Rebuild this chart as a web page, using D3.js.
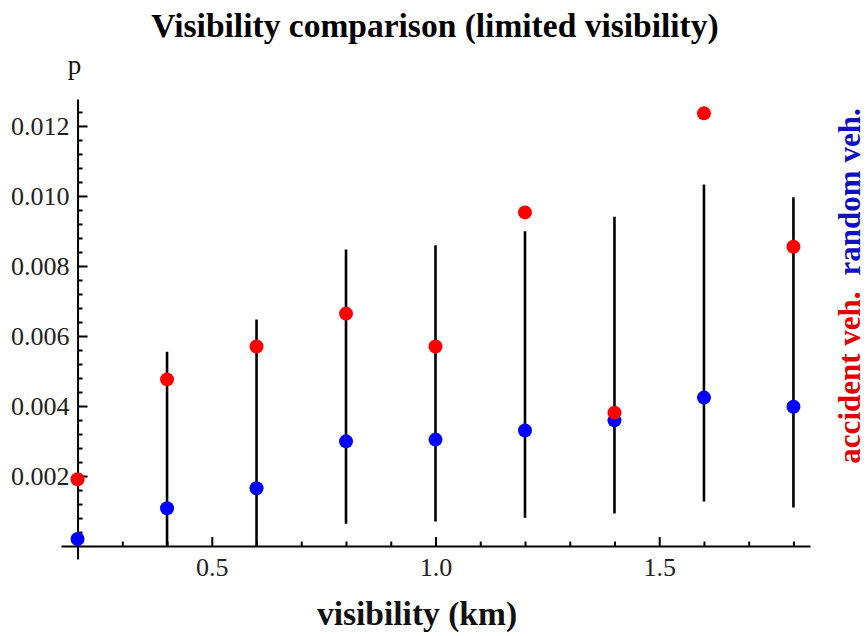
<!DOCTYPE html>
<html>
<head>
<meta charset="utf-8">
<script src="https://cdn.jsdelivr.net/npm/d3@7"></script>
<style>
  html, body { margin: 0; padding: 0; background: #fff; }
  svg { display: block; }
</style>
</head>
<body>
<svg id="chart" width="866" height="636"></svg>
<script>
// ---- data ----
const visibility   = [0.2, 0.4, 0.6, 0.8, 1.0, 1.2, 1.4, 1.6, 1.8];
const accidentVeh  = [0.00191, 0.00476, 0.00570, 0.00664, 0.00570, 0.00953, 0.00381, 0.01236, 0.00855];
const randomVeh    = [0.00020, 0.00108, 0.00165, 0.00299, 0.00304, 0.00330, 0.00359, 0.00424, 0.00398];
const rangeLow     = [null, 0.0, 0.0, 0.00064, 0.00070, 0.00081, 0.00093, 0.00127, 0.00110];
const rangeHigh    = [null, 0.00555, 0.00647, 0.00847, 0.00859, 0.00899, 0.00941, 0.01033, 0.00996];
const xMajorTicks  = [0.5, 1.0, 1.5];
const xMinorTicks  = [0.3, 0.4, 0.6, 0.7, 0.8, 0.9, 1.1, 1.2, 1.3, 1.4, 1.6, 1.7, 1.8];
const yMajorTicks  = [0.002, 0.004, 0.006, 0.008, 0.010, 0.012];
const yMinorTicks  = d3.range(1, 32).map(i => +(i * 0.0004).toFixed(4)).filter(v => Math.abs(v / 0.002 - Math.round(v / 0.002)) > 1e-6);

const titleText  = "Visibility comparison (limited visibility)";
const xLabelText = "visibility (km)";
const yLabelText = "p";
const seriesLabels = ["accident veh.", "random veh."];

// ---- layout ----
const svg = d3.select("#chart");
const x = d3.scaleLinear().domain([0.163, 1.837]).range([61, 810]);
const y = d3.scaleLinear().domain([-0.00037, 0.01277]).range([559, 99]);
const x0 = x(0.2), y0 = y(0);

const serif = "'Liberation Serif','Times New Roman',Times,serif";
const RED = "#ff0000", BLUE = "#0000ff";

// title
svg.append("text")
  .attr("x", 435).attr("y", 37)
  .attr("text-anchor", "middle")
  .style("font-family", serif).style("font-weight", "bold").style("font-size", "33.5px")
  .attr("fill", "#000").text(titleText);

// x axis (minor + major)
const gx = svg.append("g").attr("transform", `translate(0,${y0})`);
gx.call(d3.axisBottom(x).tickValues(xMinorTicks).tickSize(-4.5).tickSizeOuter(0).tickFormat(""));
gx.append("g").call(d3.axisBottom(x).tickValues(xMajorTicks).tickSize(-9).tickSizeOuter(0).tickPadding(11)
  .tickFormat(d3.format(".1f")))
  .call(g => g.select(".domain").remove());

// y axis (minor + major)
const gy = svg.append("g").attr("transform", `translate(${x0},0)`);
gy.call(d3.axisLeft(y).tickValues(yMinorTicks).tickSize(-5).tickSizeOuter(0).tickFormat(""));
gy.append("g").call(d3.axisLeft(y).tickValues(yMajorTicks).tickSize(-10).tickSizeOuter(0).tickPadding(8)
  .tickFormat(d3.format(".3f")))
  .call(g => g.select(".domain").remove());

svg.selectAll(".domain").attr("stroke", "#000").attr("stroke-width", 2);
svg.selectAll(".tick line").attr("stroke", "#000").attr("stroke-width", 2);
svg.selectAll(".tick text")
  .style("font-family", serif).style("font-size", "26px").attr("fill", "#222");

// axis labels
svg.append("text")
  .attr("x", x0 - 3).attr("y", 74)
  .attr("text-anchor", "middle")
  .style("font-family", serif).style("font-size", "27px")
  .attr("fill", "#111").text(yLabelText);

svg.append("text")
  .attr("x", 417).attr("y", 625)
  .attr("text-anchor", "middle")
  .style("font-family", serif).style("font-weight", "bold").style("font-size", "33.5px")
  .attr("fill", "#111").text(xLabelText);

// error bars
const bars = visibility.map((v, i) => ({ v, lo: rangeLow[i], hi: rangeHigh[i] })).filter(d => d.lo !== null);
svg.append("g").selectAll("line").data(bars).join("line")
  .attr("x1", d => x(d.v)).attr("x2", d => x(d.v))
  .attr("y1", d => y(d.lo)).attr("y2", d => y(d.hi))
  .attr("stroke", "#000").attr("stroke-width", 2.6);

// points
svg.append("g").selectAll("circle").data(visibility.map((v, i) => ({ v, p: randomVeh[i] }))).join("circle")
  .attr("cx", d => x(d.v)).attr("cy", d => y(d.p)).attr("r", 7).attr("fill", BLUE);
svg.append("g").selectAll("circle").data(visibility.map((v, i) => ({ v, p: accidentVeh[i] }))).join("circle")
  .attr("cx", d => x(d.v)).attr("cy", d => y(d.p)).attr("r", 7).attr("fill", RED);

// right-hand series labels (rotated)
const side = svg.append("text")
  .attr("transform", "translate(860,286) rotate(-90)")
  .attr("text-anchor", "middle")
  .style("font-family", serif).style("font-weight", "bold").style("font-size", "31px");
side.append("tspan").attr("fill", "#e00000").text(seriesLabels[0]);
side.append("tspan").attr("fill", "#1010c0").attr("dx", 16).text(seriesLabels[1]);
</script>
</body>
</html>
